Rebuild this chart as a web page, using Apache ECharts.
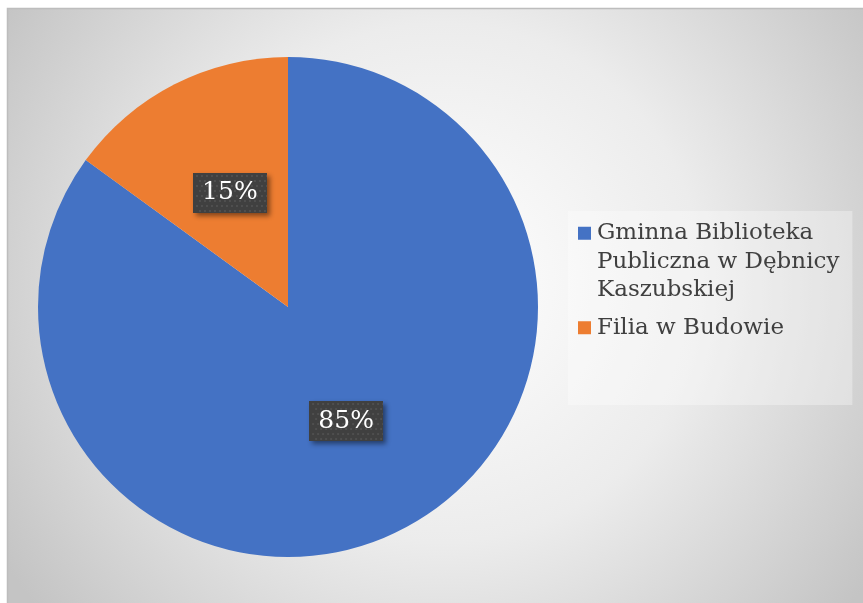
<!DOCTYPE html>
<html><head><meta charset="utf-8">
<script src="https://cdn.jsdelivr.net/npm/echarts@6/dist/echarts.min.js"></script>
<style>html,body{margin:0;padding:0;background:#fff}#main{width:863px;height:603px}</style>
</head><body><div id="main"></div>
<script>
const categories = ['Gminna Biblioteka Publiczna w Dębnicy Kaszubskiej', 'Filia w Budowie'];
const values = [85, 15];
const colors = ['#4472c4', '#ed7d31'];
// legend text as wrapped in the reference
const legendLines = [['Gminna Biblioteka', 'Publiczna w Dębnicy', 'Kaszubskiej'], ['Filia w Budowie']];

// dotted dark texture for data labels
const tex = document.createElement('canvas');
tex.width = 74; tex.height = 40;
const tc = tex.getContext('2d');
tc.fillStyle = '#404040'; tc.fillRect(0, 0, 74, 40);
tc.fillStyle = '#4f4f4f';
for (let y = 2; y < 40; y += 5) for (let x = 2 + ((y / 5) % 2) * 2.5; x < 74; x += 5) { tc.fillRect(Math.round(x), y, 2, 2); }

const rich = {
  t: { fontFamily: 'DejaVu Serif', fontSize: 23, color: '#404040', lineHeight: 28.5 },
  g: { width: 6 },
  ind: { width: 19 }
};
colors.forEach((c, i) => { rich['s' + i] = { width: 13, height: 13, backgroundColor: c }; });

const chart = echarts.init(document.getElementById('main'));
chart.setOption({
  backgroundColor: '#ffffff',
  animation: false,
  graphic: [{
    type: 'rect', z: -10, silent: true,
    shape: { x: 7.5, y: 8.5, width: 870, height: 610 },
    style: {
      fill: new echarts.graphic.RadialGradient(0.5, 0.45, 0.85, [
        { offset: 0, color: '#ffffff' },
        { offset: 0.5, color: '#ececec' },
        { offset: 1, color: '#c4c4c4' }
      ]),
      stroke: '#bdbdbd', lineWidth: 1.5
    }
  }],
  legend: {
    orient: 'vertical',
    left: 568, top: 211,
    padding: [8, 13, 63, 5],
    backgroundColor: 'rgba(255,255,255,0.32)',
    icon: 'none',
    itemWidth: 0, itemHeight: 11,
    itemGap: 9,
    data: categories,
    formatter: function (name) {
      const i = categories.indexOf(name);
      return legendLines[i].map((l, k) => (k === 0 ? '{s' + i + '|}{g|}' : '{ind|}') + '{t|' + l + '}').join('\n');
    },
    textStyle: { rich: rich, fontFamily: 'DejaVu Serif', fontSize: 23, color: '#404040', lineHeight: 28.5 }
  },
  series: [{
    type: 'pie',
    center: [288, 307],
    radius: 250,
    startAngle: 90,
    clockwise: true,
    color: colors,
    data: categories.map((c, i) => ({ name: c, value: values[i] })),
    label: {
      show: true, position: 'inside',
      formatter: '{d}%',
      fontFamily: 'DejaVu Serif', fontSize: 25, color: '#ffffff',
      backgroundColor: { image: tex },
      width: 58, height: 28, align: 'center',
      padding: [6, 8],
      shadowColor: 'rgba(0,0,0,0.45)', shadowBlur: 5, shadowOffsetX: 3, shadowOffsetY: 3
    },
    labelLine: { show: false },
    itemStyle: { borderWidth: 0 }
  }]
});
</script></body></html>
